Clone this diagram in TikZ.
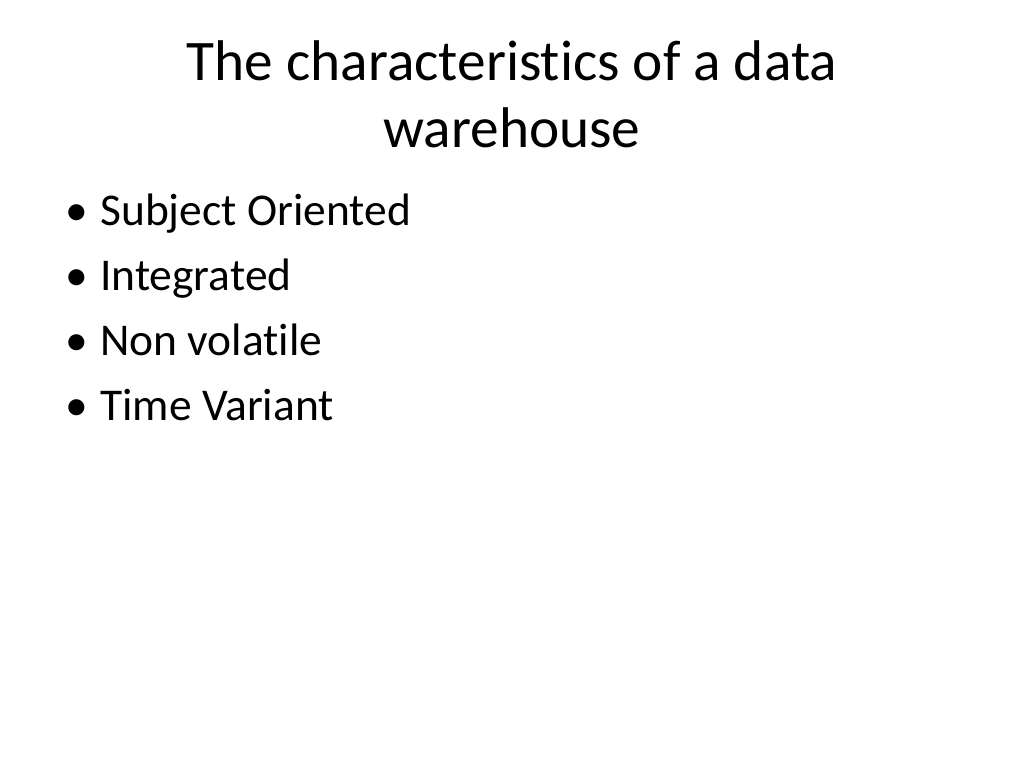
\documentclass[tikz,border=0pt]{standalone}
\usepackage{fontspec}
\setmainfont{Carlito}[Ligatures={NoCommon}]
\usetikzlibrary{positioning}
\tikzset{
	title text/.style={
		inner sep=0pt,
		anchor=base,
		font=\fontsize{43}{50}\selectfont
	},
	item text/.style={
		inner sep=0pt,
		anchor=base west,
		font=\fontsize{34.1}{40}\selectfont
	}
}
\begin{document}
\begin{tikzpicture}[x=0.75pt,y=-0.75pt]
	\fill[white] (0,0) rectangle (1024,768);
	\useasboundingbox (0,0) rectangle (1024,768);

	\node[title text](title1) at(512,80){The characteristics of a data};
	\node[title text](title2) at(512,147){warehouse};

	\foreach \t [count=\i] in{
		Subject Oriented,Integrated,Non volatile,Time Variant%
	}{
		\node[item text](dot\i) at(65,{225+65.3*(\i-1)}){\textbullet};
		\node[item text](item\i) at(100,{225+65.3*(\i-1)}){\t};
	}
\end{tikzpicture}
\end{document}
